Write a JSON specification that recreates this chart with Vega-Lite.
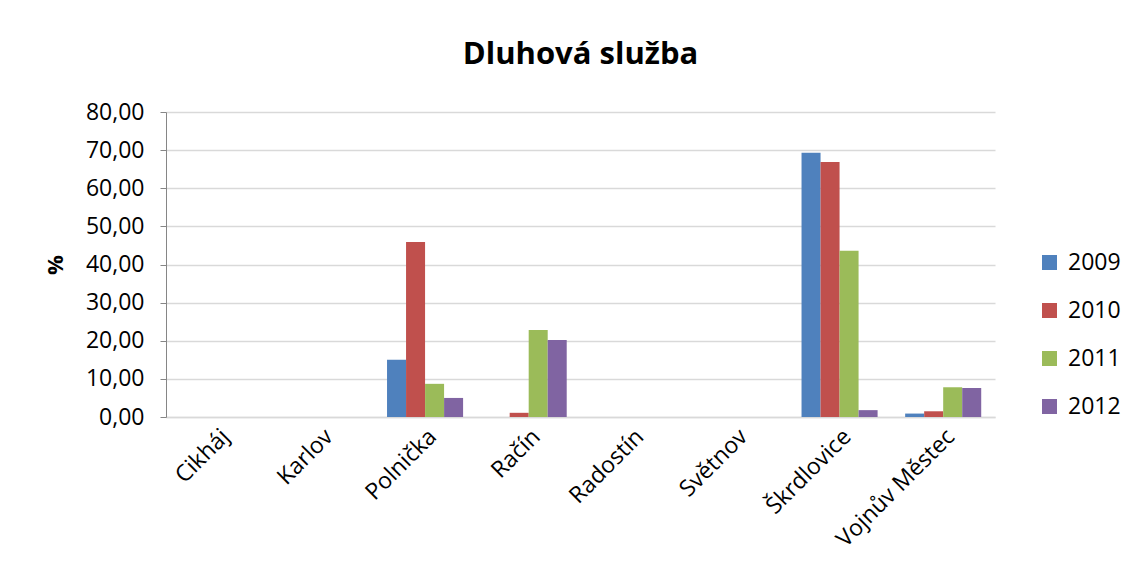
{
  "$schema": "https://vega.github.io/schema/vega-lite/v6.json",
  "width": 829,
  "height": 305,
  "autosize": "none",
  "padding": {"left": 166, "top": 112, "right": 132, "bottom": 164},
  "background": "white",
  "title": {
    "text": "Dluhová služba",
    "font": "Open Sans",
    "fontSize": 31,
    "fontWeight": "bold",
    "color": "black",
    "anchor": "middle",
    "offset": 30
  },
  "data": {
    "values": [
      {"obec": "Cikháj", "rok": "2009", "hodnota": 0},
      {"obec": "Cikháj", "rok": "2010", "hodnota": 0},
      {"obec": "Cikháj", "rok": "2011", "hodnota": 0},
      {"obec": "Cikháj", "rok": "2012", "hodnota": 0},
      {"obec": "Karlov", "rok": "2009", "hodnota": 0},
      {"obec": "Karlov", "rok": "2010", "hodnota": 0},
      {"obec": "Karlov", "rok": "2011", "hodnota": 0},
      {"obec": "Karlov", "rok": "2012", "hodnota": 0},
      {"obec": "Polnička", "rok": "2009", "hodnota": 15.0},
      {"obec": "Polnička", "rok": "2010", "hodnota": 45.9},
      {"obec": "Polnička", "rok": "2011", "hodnota": 8.7},
      {"obec": "Polnička", "rok": "2012", "hodnota": 5.0},
      {"obec": "Račín", "rok": "2009", "hodnota": 0},
      {"obec": "Račín", "rok": "2010", "hodnota": 1.1},
      {"obec": "Račín", "rok": "2011", "hodnota": 22.8},
      {"obec": "Račín", "rok": "2012", "hodnota": 20.2},
      {"obec": "Radostín", "rok": "2009", "hodnota": 0},
      {"obec": "Radostín", "rok": "2010", "hodnota": 0},
      {"obec": "Radostín", "rok": "2011", "hodnota": 0},
      {"obec": "Radostín", "rok": "2012", "hodnota": 0},
      {"obec": "Světnov", "rok": "2009", "hodnota": 0},
      {"obec": "Světnov", "rok": "2010", "hodnota": 0},
      {"obec": "Světnov", "rok": "2011", "hodnota": 0},
      {"obec": "Světnov", "rok": "2012", "hodnota": 0},
      {"obec": "Škrdlovice", "rok": "2009", "hodnota": 69.3},
      {"obec": "Škrdlovice", "rok": "2010", "hodnota": 66.9},
      {"obec": "Škrdlovice", "rok": "2011", "hodnota": 43.6},
      {"obec": "Škrdlovice", "rok": "2012", "hodnota": 1.8},
      {"obec": "Vojnův Městec", "rok": "2009", "hodnota": 0.9},
      {"obec": "Vojnův Městec", "rok": "2010", "hodnota": 1.5},
      {"obec": "Vojnův Městec", "rok": "2011", "hodnota": 7.8},
      {"obec": "Vojnův Městec", "rok": "2012", "hodnota": 7.6}
    ]
  },
  "mark": {"type": "bar"},
  "encoding": {
    "x": {
      "field": "obec",
      "type": "nominal",
      "sort": null,
      "scale": {"paddingInner": 0.266, "paddingOuter": 0.133},
      "axis": {
        "title": null,
        "labelAngle": -45,
        "labelAlign": "right",
        "labelBaseline": "top",
        "labelPadding": 8,
        "ticks": false,
        "domain": true,
        "domainColor": "#d9d9d9",
        "domainWidth": 1.5,
        "labelFont": "Open Sans",
        "labelFontSize": 23,
        "labelColor": "black"
      }
    },
    "xOffset": {"field": "rok", "type": "nominal"},
    "y": {
      "field": "hodnota",
      "type": "quantitative",
      "scale": {"domain": [0, 80]},
      "axis": {
        "title": "%",
        "titleFont": "Open Sans",
        "titleFontSize": 22,
        "titleFontWeight": "bold",
        "titleColor": "black",
        "titlePadding": 18,
        "values": [0, 10, 20, 30, 40, 50, 60, 70, 80],
        "labelExpr": "replace(format(datum.value, '.2f'), '.', ',')",
        "labelFont": "Open Sans",
        "labelFontSize": 23,
        "labelColor": "black",
        "labelPadding": 16,
        "tickSize": 6,
        "tickColor": "#868686",
        "domainColor": "#868686",
        "grid": true,
        "gridColor": "#d9d9d9",
        "gridWidth": 1.5
      }
    },
    "color": {
      "field": "rok",
      "type": "nominal",
      "scale": {"domain": ["2009", "2010", "2011", "2012"], "range": ["#4F81BD", "#C0504D", "#9BBB59", "#8064A2"]},
      "legend": {
        "title": null,
        "orient": "none",
        "legendX": 872,
        "legendY": 139,
        "symbolType": "square",
        "symbolSize": 225,
        "symbolStrokeWidth": 0,
        "labelFont": "Open Sans",
        "labelFontSize": 23,
        "labelColor": "black",
        "labelOffset": 7,
        "rowPadding": 24
      }
    }
  },
  "config": {"view": {"stroke": null}}
}
